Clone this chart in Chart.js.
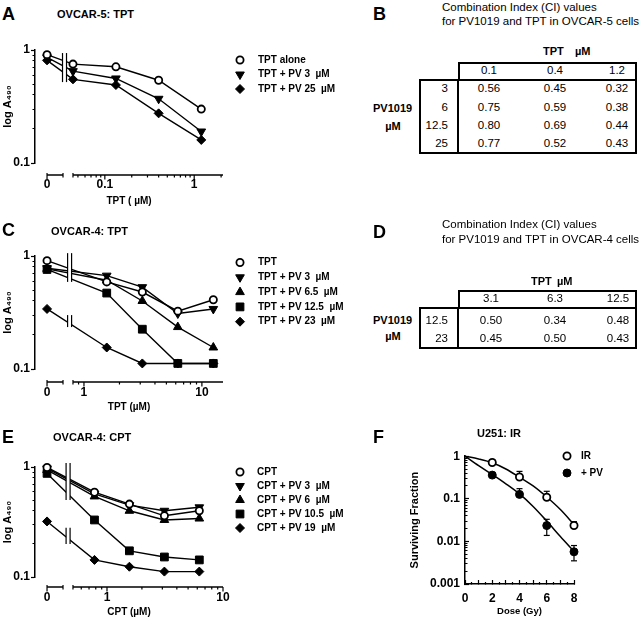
<!DOCTYPE html>
<html>
<head>
<meta charset="utf-8">
<script src="https://cdn.jsdelivr.net/npm/chart.js@4.4.0/dist/chart.umd.min.js"></script>
<style>
html, body { margin: 0; padding: 0; background: #fff; }
#fig { position: relative; width: 640px; height: 620px; overflow: hidden; font-family: 'Liberation Sans', Arial, sans-serif; color: #000; }
#fig canvas { position: absolute; }
.t { position: absolute; white-space: pre; }
.box { position: absolute; box-sizing: border-box; border: 0 solid #000; }
</style>
</head>
<body>
<div id="fig">
  <canvas id="cA" width="365" height="180" style="left:0;top:30px"></canvas>
  <canvas id="cC" width="365" height="180" style="left:0;top:235px"></canvas>
  <canvas id="cE" width="365" height="175" style="left:0;top:445px"></canvas>
  <canvas id="cF" width="245" height="180" style="left:395px;top:440px"></canvas>
</div>
<script>
// panel A: OVCAR-5, TPT
const aConc = [0, 0.044, 0.133, 0.4, 1.2];
const aTptAlone = [0.91, 0.75, 0.71, 0.54, 0.30];
const aTptPv3 = [0.86, 0.65, 0.56, 0.37, 0.19];
const aTptPv25 = [0.81, 0.55, 0.49, 0.275, 0.16];
const aXTicks = [0, 0.1, 1];

// panel B: CI values, OVCAR-5
const bTpt = ['0.1', '0.4', '1.2'];
const bPv = ['3', '6', '12.5', '25'];
const bCi = [
  ['0.56', '0.45', '0.32'],
  ['0.75', '0.59', '0.38'],
  ['0.80', '0.69', '0.44'],
  ['0.77', '0.52', '0.43']
];

// panel C: OVCAR-4, TPT
const cConc = [0, 1.56, 3.125, 6.25, 12.5];
const cTpt = [0.91, 0.59, 0.48, 0.325, 0.41];
const cPv3 = [0.78, 0.67, 0.53, 0.31, 0.34];
const cPv65 = [0.77, 0.61, 0.40, 0.235, 0.155];
const cPv125 = [0.76, 0.47, 0.225, 0.112, 0.112];
const cPv23 = [0.34, 0.155, 0.112, 0.112, 0.112];
const cXTicks = [0, 1, 10];

// panel D: CI values, OVCAR-4
const dTpt = ['3.1', '6.3', '12.5'];
const dPv = ['12.5', '23'];
const dCi = [
  ['0.50', '0.34', '0.48'],
  ['0.45', '0.50', '0.43']
];

// panel E: OVCAR-4, CPT
const eConc = [0, 0.78, 1.56, 3.125, 6.25];
const eCpt = [0.99, 0.59, 0.46, 0.36, 0.40];
const ePv3 = [0.97, 0.57, 0.45, 0.40, 0.43];
const ePv6 = [0.94, 0.54, 0.40, 0.33, 0.34];
const ePv105 = [0.875, 0.33, 0.173, 0.152, 0.143];
const ePv19 = [0.32, 0.143, 0.124, 0.112, 0.112];
const eXTicks = [0, 1, 10];

// panel F: U251, IR survival (error bar ends)
const fDose = [2, 4, 6, 8];
const fIr = [0.71, 0.324, 0.109, 0.0236];
const fIrHi = [0.83, 0.44, 0.15, 0.029];
const fIrLo = [0.71, 0.324, 0.109, 0.0236];
const fPv = [0.36, 0.127, 0.0235, 0.0057];
const fPvHi = [0.41, 0.173, 0.033, 0.008];
const fPvLo = [0.36, 0.127, 0.0138, 0.0035];
const fCurveDose = [0, 1, 2, 3, 4, 5, 6, 7, 8];
const fIrCurve = [1, 0.86, 0.70, 0.50, 0.32, 0.2, 0.11, 0.056, 0.025];
const fPvCurve = [1, 0.6, 0.37, 0.225, 0.13, 0.066, 0.03, 0.013, 0.0058];

const FONT = "'Liberation Sans', Arial, sans-serif";
Chart.defaults.font.family = FONT;
Chart.defaults.color = '#000';

// x axis with a "0" segment and a log segment
class BrokenLogScale extends Chart.Scale {
  determineDataLimits() {
    this.min = 0;
    this.max = this.options.logMax;
  }
  buildTicks() { return []; }
  getLabelForValue(v) { return String(v); }
  getPixelForValue(v) {
    const o = this.options;
    if (v === null || v === undefined || isNaN(v)) return NaN;
    if (v <= 0) return this.getPixelForDecimal(o.zeroAt);
    const lo = Math.log10(o.logMin), hi = Math.log10(o.logMax);
    return this.getPixelForDecimal(o.logStart + (1 - o.logStart) * (Math.log10(v) - lo) / (hi - lo));
  }
  getValueForPixel(p) {
    const o = this.options, d = this.getDecimalForPixel(p);
    if (d < o.logStart) return 0;
    const lo = Math.log10(o.logMin), hi = Math.log10(o.logMax);
    return Math.pow(10, lo + (d - o.logStart) / (1 - o.logStart) * (hi - lo));
  }
}
BrokenLogScale.id = 'brokenLog';
BrokenLogScale.defaults = {};
Chart.register(BrokenLogScale);

function isPow10(v) {
  const l = Math.log10(v);
  return Math.abs(l - Math.round(l)) < 1e-6;
}
function logTicks(min, max) {
  const out = [];
  for (let e = Math.floor(Math.log10(min)); e <= Math.ceil(Math.log10(max)); e++) {
    for (let m = 1; m < 10; m++) {
      const v = +(m * Math.pow(10, e)).toPrecision(6);
      if (v >= min && v <= max) out.push({ value: v });
    }
  }
  return out;
}

function seg(ctx, x1, y1, x2, y2) {
  ctx.beginPath(); ctx.moveTo(x1, y1); ctx.lineTo(x2, y2); ctx.stroke();
}

const brokenAxis = {
  id: 'brokenAxis',
  afterDatasetsDraw(chart, args, o) {
    const xs = chart.scales.x, ys = chart.scales.y, ctx = chart.ctx;
    const xo = xs.options, area = chart.chartArea;
    const ay = area.bottom + o.gap;
    const px = d => xs.getPixelForDecimal(d);
    ctx.save();
    ctx.strokeStyle = '#000';
    // break marks across the lines
    const bx = px(xo.breakAt);
    o.breaks.forEach(b => {
      const y1 = ys.getPixelForValue(b[0]), y2 = ys.getPixelForValue(b[1]);
      ctx.fillStyle = '#fff';
      ctx.fillRect(bx - 2, y1, 4, y2 - y1);
      ctx.lineWidth = 1.2;
      seg(ctx, bx - 2, y1, bx - 2, y2);
      seg(ctx, bx + 2, y1, bx + 2, y2);
    });
    // axis segments
    ctx.lineWidth = 1.5;
    seg(ctx, px(xo.zeroAt), ay, px(xo.zeroEnd), ay);
    seg(ctx, px(xo.logStart), ay, xs.right, ay);
    ctx.lineWidth = 1.2;
    seg(ctx, px(xo.zeroAt), ay - 2, px(xo.zeroAt), ay + 4.5);
    seg(ctx, px(xo.zeroEnd), ay - 2, px(xo.zeroEnd), ay + 2.5);
    seg(ctx, px(xo.logStart), ay - 2, px(xo.logStart), ay + 2.5);
    logTicks(xo.logMin, xo.logMax).forEach(t => {
      const x = xs.getPixelForValue(t.value);
      seg(ctx, x, ay, x, ay + (isPow10(t.value) ? 4.5 : 2.5));
    });
    ctx.fillStyle = '#000';
    ctx.textAlign = 'center';
    ctx.textBaseline = 'middle';
    ctx.font = 'bold 12px ' + FONT;
    o.ticks.forEach(v => ctx.fillText(String(v), xs.getPixelForValue(v), ay + o.labelDy));
    ctx.font = 'bold 10px ' + FONT;
    ctx.fillText(o.title, (area.left + area.right) / 2, ay + o.titleDy);
    ctx.restore();
  }
};

const sideLegend = {
  id: 'sideLegend',
  afterDraw(chart, args, o) {
    const ctx = chart.ctx;
    let row = 0;
    ctx.save();
    chart.data.datasets.forEach(ds => {
      if (!ds.label) return;
      const y = o.y + row * o.dy;
      row++;
      ctx.fillStyle = ds.pointBackgroundColor;
      ctx.strokeStyle = ds.pointBorderColor;
      ctx.lineWidth = ds.pointBorderWidth;
      Chart.helpers.drawPoint(ctx, {
        pointStyle: ds.pointStyle, rotation: ds.pointRotation || 0,
        radius: ds.pointRadius, borderWidth: ds.pointBorderWidth
      }, o.x, y);
      ctx.fillStyle = '#000';
      ctx.font = 'bold 10px ' + FONT;
      ctx.textAlign = 'left';
      ctx.textBaseline = 'middle';
      ctx.fillText(ds.label, o.textX, y);
    });
    ctx.restore();
  }
};

const errorBars = {
  id: 'errorBars',
  beforeDatasetsDraw(chart) {
    const xs = chart.scales.x, ys = chart.scales.y, ctx = chart.ctx;
    ctx.save();
    ctx.strokeStyle = '#000';
    ctx.lineWidth = 1.2;
    chart.data.datasets.forEach(ds => {
      if (!ds.errHi) return;
      ds.data.forEach((p, i) => {
        const x = xs.getPixelForValue(p.x), yc = ys.getPixelForValue(p.y);
        const yT = ys.getPixelForValue(ds.errHi[i]);
        const yB = ys.getPixelForValue(ds.errLo[i]);
        seg(ctx, x, yT, x, yB);
        if (yT < yc - 0.5) seg(ctx, x - 3, yT, x + 3, yT);
        if (yB > yc + 0.5) seg(ctx, x - 3, yB, x + 3, yB);
      });
    });
    ctx.restore();
  }
};

const OPEN = { pointStyle: 'circle', pointBackgroundColor: '#fff', pointBorderWidth: 1.8, pointRadius: 3.6 };
const DOWN = { pointStyle: 'triangle', pointRotation: 180, pointRadius: 5 };
const UP = { pointStyle: 'triangle', pointRadius: 5 };
const SQUARE = { pointStyle: 'rect', pointRadius: 5.5 };
const DIAMOND = { pointStyle: 'rectRot', pointRadius: 4.5 };
const FILLED = { pointStyle: 'circle', pointRadius: 4 };

function series(label, xs, ys, style) {
  return Object.assign({
    label: label,
    data: xs.map((x, i) => ({ x: x, y: ys[i] })),
    borderColor: '#000', borderWidth: 1.4,
    pointBorderColor: '#000', pointBackgroundColor: '#000', pointBorderWidth: 1,
    clip: false, tension: 0
  }, style);
}

function yLogAxis(min, max, width, tickLen, pad, titleText, titlePad) {
  return {
    type: 'logarithmic', min: min, max: max,
    afterFit: s => { s.width = width; },
    afterBuildTicks: s => { s.ticks = logTicks(min, max); },
    ticks: {
      autoSkip: false, padding: pad, color: '#000',
      font: { size: 12, weight: 'bold' },
      callback: v => isPow10(v) ? String(v) : ''
    },
    grid: {
      drawOnChartArea: false, tickLength: tickLen, tickWidth: 1.2, tickColor: '#000',
      tickBorderDash: c => (c.tick && !isPow10(c.tick.value)) ? [0, 1.5, 10] : []
    },
    border: { color: '#000', width: 1.5 },
    title: { display: true, text: titleText, color: '#000', font: { size: 11, weight: 'bold' }, padding: { top: titlePad, bottom: 0 } }
  };
}

function doseChart(id, datasets, xOpt, axisOpt, legendOpt, pad) {
  return new Chart(document.getElementById(id), {
    type: 'line',
    data: { datasets: datasets },
    options: {
      responsive: false, animation: false, events: [],
      layout: { padding: pad, autoPadding: false },
      plugins: {
        legend: { display: false }, tooltip: { enabled: false },
        brokenAxis: axisOpt, sideLegend: legendOpt
      },
      scales: {
        x: Object.assign({ type: 'brokenLog', display: false }, xOpt),
        y: yLogAxis(0.1, 1, 35, 4, 1, 'log A₄₉₀', 1)
      }
    },
    plugins: [brokenAxis, sideLegend]
  });
}

doseChart('cA', [
  series('TPT alone', aConc, aTptAlone, OPEN),
  series('TPT + PV 3  µM', aConc, aTptPv3, DOWN),
  series('TPT + PV 25  µM', aConc, aTptPv25, DIAMOND)
], { zeroAt: 0.064, zeroEnd: 0.149, breakAt: 0.157, logStart: 0.202, logMin: 0.044, logMax: 2.1 },
{ gap: 12, ticks: aXTicks, title: 'TPT ( µM)', labelDy: 10, titleDy: 26, breaks: [[0.94, 0.52]] },
{ x: 240, y: 30, dy: 14.5, textX: 258 },
{ left: 0, top: 20, right: 142, bottom: 47 });

doseChart('cC', [
  series('TPT', cConc, cTpt, OPEN),
  series('TPT + PV 3  µM', cConc, cPv3, DOWN),
  series('TPT + PV 6.5  µM', cConc, cPv65, UP),
  series('TPT + PV 12.5  µM', cConc, cPv125, SQUARE),
  series('TPT + PV 23  µM', cConc, cPv23, DIAMOND)
], { zeroAt: 0.064, zeroEnd: 0.149, breakAt: 0.184, logStart: 0.202, logMin: 0.807, logMax: 15.1 },
{ gap: 13, ticks: cXTicks, title: 'TPT (µM)', labelDy: 11, titleDy: 25, breaks: [[1.06, 0.59], [0.30, 0.235]] },
{ x: 240, y: 27.5, dy: 14.8, textX: 258 },
{ left: 0, top: 21, right: 142, bottom: 46 });

doseChart('cE', [
  series('CPT', eConc, eCpt, OPEN),
  series('CPT + PV 3  µM', eConc, ePv3, DOWN),
  series('CPT + PV 6  µM', eConc, ePv6, UP),
  series('CPT + PV 10.5  µM', eConc, ePv105, SQUARE),
  series('CPT + PV 19  µM', eConc, ePv19, DIAMOND)
], { zeroAt: 0.064, zeroEnd: 0.149, breakAt: 0.176, logStart: 0.202, logMin: 0.509, logMax: 10 },
{ gap: 10, ticks: eXTicks, title: 'CPT (µM)', labelDy: 11, titleDy: 25, breaks: [[1.09, 0.50], [0.28, 0.20]] },
{ x: 240, y: 27, dy: 14, textX: 257 },
{ left: 0, top: 22, right: 142, bottom: 43 });

function curve(xs, ys) {
  return {
    data: xs.map((x, i) => ({ x: x, y: ys[i] })),
    borderColor: '#000', borderWidth: 1.5, pointRadius: 0,
    cubicInterpolationMode: 'monotone', clip: false
  };
}

new Chart(document.getElementById('cF'), {
  type: 'line',
  data: {
    datasets: [
      Object.assign(series('IR', fDose, fIr, OPEN), { showLine: false, errHi: fIrHi, errLo: fIrLo }),
      Object.assign(series('+ PV', fDose, fPv, FILLED), { showLine: false, errHi: fPvHi, errLo: fPvLo }),
      curve(fCurveDose, fIrCurve),
      curve(fCurveDose, fPvCurve)
    ]
  },
  options: {
    responsive: false, animation: false, events: [],
    layout: { padding: { left: 10, top: 9, right: 66, bottom: 0 }, autoPadding: false },
    plugins: {
      legend: { display: false }, tooltip: { enabled: false },
      sideLegend: { x: 172, y: 16, dy: 17, textX: 186 }
    },
    scales: {
      x: {
        type: 'linear', min: 0, max: 8,
        afterFit: s => { s.height = 36; },
        ticks: {
          stepSize: 0.5, autoSkip: false, maxRotation: 0, padding: 11, color: '#000',
          font: { size: 12, weight: 'bold' },
          callback: v => v % 2 === 0 ? String(v) : ''
        },
        grid: {
          drawOnChartArea: false, tickLength: -4, tickWidth: 1.2, tickColor: '#000',
          tickBorderDash: c => (c.tick && c.tick.value % 1) ? [2.5, 10] : []
        },
        border: { color: '#000', width: 1.5 },
        title: { display: true, text: 'Dose (Gy)', color: '#000', font: { size: 9.5, weight: 'bold' }, padding: { top: 0, bottom: 3 } }
      },
      y: yLogAxis(0.001, 1, 60, -4, 9, 'Surviving Fraction', 3.5)
    }
  },
  plugins: [errorBars, sideLegend]
});

// html text and tables
const fig = document.getElementById('fig');
function put(text, x, y, align, size, bold) {
  const d = document.createElement('div');
  d.className = 't';
  d.textContent = text;
  d.style.font = (bold ? 'bold ' : '') + size + 'px ' + FONT;
  d.style.lineHeight = size + 'px';
  d.style.top = (y - size / 2) + 'px';
  if (align === 'left') d.style.left = x + 'px';
  else if (align === 'right') d.style.right = (640 - x) + 'px';
  else { d.style.left = x + 'px'; d.style.transform = 'translateX(-50%)'; }
  fig.appendChild(d);
}
function box(l, t, w, h, widths) {
  const d = document.createElement('div');
  d.className = 'box';
  d.style.left = l + 'px'; d.style.top = t + 'px';
  d.style.width = w + 'px'; d.style.height = h + 'px';
  d.style.borderWidth = widths;
  fig.appendChild(d);
}

function ciTable(g, tpt, pv, ci) {
  box(g.div, g.headTop, g.right - g.div, g.bodyTop - g.headTop + 2, '2px 2px 0 2px');
  box(g.left, g.bodyTop, g.right - g.left, g.bottom - g.bodyTop, '2px');
  box(g.div - 1, g.bodyTop, 2, g.bottom - g.bodyTop, '0 0 0 2px');
  tpt.forEach((t, j) => put(t, g.cols[j], g.headY, 'center', 11.5, false));
  pv.forEach((p, i) => {
    put(p, g.pvRight, g.rows[i], 'right', 11.5, false);
    ci[i].forEach((v, j) => put(v, g.cols[j], g.rows[i], 'center', 11.5, false));
  });
}

// panel letters and titles
put('A', 2, 13.5, 'left', 18, true);
put('B', 373, 13.5, 'left', 18, true);
put('C', 2, 230, 'left', 18, true);
put('D', 373, 231.5, 'left', 18, true);
put('E', 2, 436.5, 'left', 18, true);
put('F', 373, 436.5, 'left', 18, true);
put('OVCAR-5: TPT', 57, 14, 'left', 11, true);
put('OVCAR-4: TPT', 51, 231, 'left', 11, true);
put('OVCAR-4: CPT', 53, 437, 'left', 11, true);
put('U251: IR', 477, 433, 'left', 11, true);

put('Combination Index (CI) values', 442, 8, 'left', 11.5, false);
put('for PV1019 and TPT in OVCAR-5 cells', 442, 22, 'left', 11.5, false);
put('TPT', 543, 51, 'left', 11, true);
put('µM', 575, 51, 'left', 11, true);
put('PV1019', 373, 108, 'left', 11, true);
put('µM', 393, 126, 'center', 11, true);
ciTable({ left: 419, div: 458, right: 637, headTop: 62, bodyTop: 79, bottom: 154, headY: 71,
  rows: [89, 108, 126, 144], cols: [489, 555, 617], pvRight: 448 }, bTpt, bPv, bCi);

put('Combination Index (CI) values', 442, 225, 'left', 11.5, false);
put('for PV1019 and TPT in OVCAR-4 cells', 442, 240, 'left', 11.5, false);
put('TPT', 531, 281, 'left', 11, true);
put('µM', 557, 281, 'left', 11, true);
put('PV1019', 373, 320, 'left', 11, true);
put('µM', 393, 336, 'center', 11, true);
ciTable({ left: 419, div: 458, right: 637, headTop: 290, bodyTop: 307, bottom: 349, headY: 298.5,
  rows: [321, 339], cols: [491, 555, 618], pvRight: 448 }, dTpt, dPv, dCi);
</script>
</body>
</html>
